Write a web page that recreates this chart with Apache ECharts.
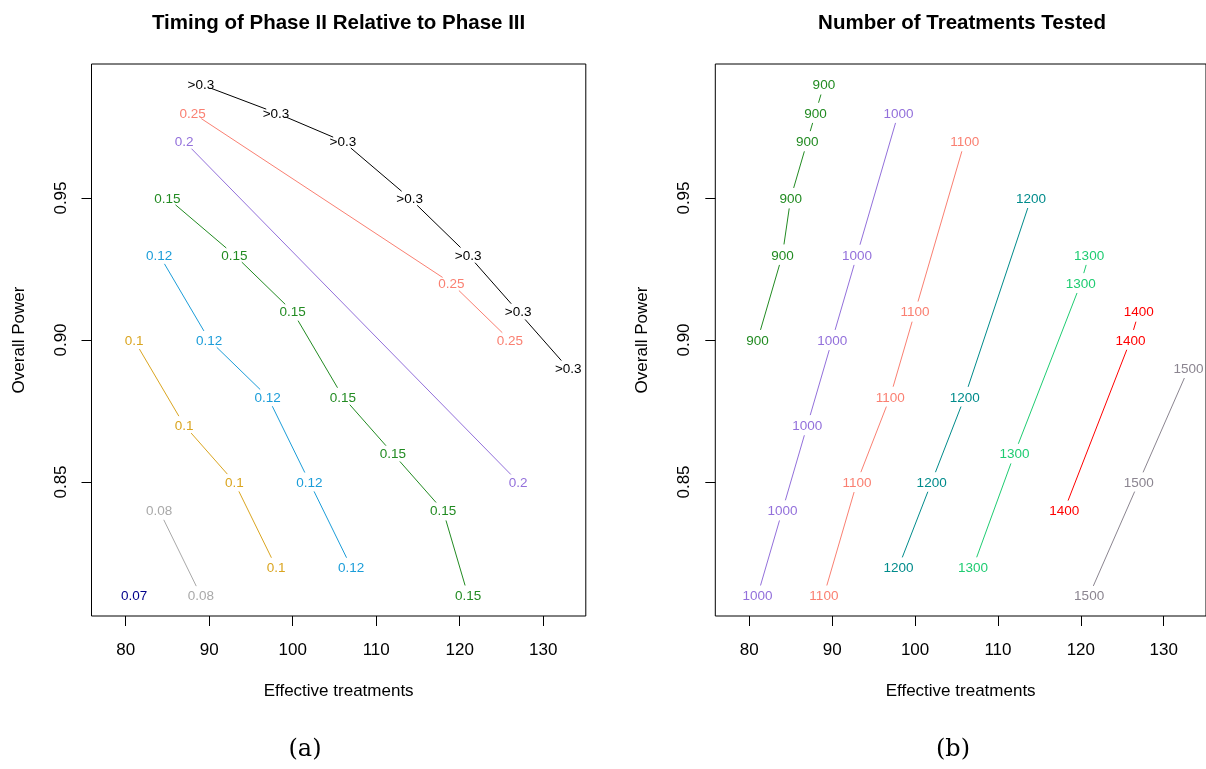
<!DOCTYPE html>
<html><head><meta charset="utf-8">
<script src="https://cdn.jsdelivr.net/npm/echarts@6/dist/echarts.min.js"></script>
<style>html,body{margin:0;padding:0;background:#fff}#c{width:1206px;height:769px}</style>
</head><body><div id="c"></div>
<script>
// ---- axis ticks ----
const xTicks = [80, 90, 100, 110, 120, 130];
const yTicks = [0.85, 0.90, 0.95];

// ---- panel (a): Timing of Phase II relative to Phase III ----
const aGt03X = [89, 98, 106, 114, 121, 127, 133];
const aGt03Y = [0.99, 0.98, 0.97, 0.95, 0.93, 0.91, 0.89];
const a025X = [88, 119, 126];
const a025Y = [0.98, 0.92, 0.90];
const a020X = [87, 127];
const a020Y = [0.97, 0.85];
const a015X = [85, 93, 100, 106, 112, 118, 121];
const a015Y = [0.95, 0.93, 0.91, 0.88, 0.86, 0.84, 0.81];
const a012X = [84, 90, 97, 102, 107];
const a012Y = [0.93, 0.90, 0.88, 0.85, 0.82];
const a010X = [81, 87, 93, 98];
const a010Y = [0.90, 0.87, 0.85, 0.82];
const a008X = [84, 89];
const a008Y = [0.84, 0.81];
const a007X = [81];
const a007Y = [0.81];
const aLabels = ['>0.3', '0.25', '0.2', '0.15', '0.12', '0.1', '0.08', '0.07'];

// ---- panel (b): Number of treatments tested ----
const b900X = [89, 88, 87, 85, 84, 81];
const b900Y = [0.99, 0.98, 0.97, 0.95, 0.93, 0.90];
const b1000X = [98, 93, 90, 87, 84, 81];
const b1000Y = [0.98, 0.93, 0.90, 0.87, 0.84, 0.81];
const b1100X = [106, 100, 97, 93, 89];
const b1100Y = [0.97, 0.91, 0.88, 0.85, 0.81];
const b1200X = [114, 106, 102, 98];
const b1200Y = [0.95, 0.88, 0.85, 0.82];
const b1300X = [121, 120, 112, 107];
const b1300Y = [0.93, 0.92, 0.86, 0.82];
const b1400X = [127, 126, 118];
const b1400Y = [0.91, 0.90, 0.84];
const b1500X = [133, 127, 121];
const b1500Y = [0.89, 0.85, 0.81];
const bLabels = ['900', '1000', '1100', '1200', '1300', '1400', '1500'];

const aColors = ['#000000', '#FA8072', '#9370DB', '#228B22', '#1B9DD9', '#DAA520', '#A9A9A9', '#00008B'];
const bColors = ['#228B22', '#9370DB', '#FA8072', '#008B8B', '#1FCC72', '#FF0000', '#8B8590'];

const aGroups = [[aGt03X, aGt03Y], [a025X, a025Y], [a020X, a020Y], [a015X, a015Y], [a012X, a012Y], [a010X, a010Y], [a008X, a008Y], [a007X, a007Y]];
const bGroups = [[b900X, b900Y], [b1000X, b1000Y], [b1100X, b1100Y], [b1200X, b1200Y], [b1300X, b1300Y], [b1400X, b1400Y], [b1500X, b1500Y]];

const SANS = '"Liberation Sans", Arial, Helvetica, sans-serif';
const LABEL_FONT = '13.5px ' + SANS;
const GAP = 10.5;

function makeRender(xs, ys, label, color) {
  return function (params, api) {
    const i = params.dataIndex;
    const p = api.coord([api.value(0), api.value(1)]);
    const children = [{
      type: 'text', x: p[0], y: p[1] + 1,
      style: { text: label, fill: color, font: LABEL_FONT, align: 'center', verticalAlign: 'middle' }
    }];
    if (i < xs.length - 1) {
      const q = api.coord([xs[i + 1], ys[i + 1]]);
      const dx = q[0] - p[0], dy = q[1] - p[1], L = Math.hypot(dx, dy);
      if (L > 2 * GAP) {
        children.push({
          type: 'line',
          shape: { x1: p[0] + dx / L * GAP, y1: p[1] + dy / L * GAP, x2: q[0] - dx / L * GAP, y2: q[1] - dy / L * GAP },
          style: { stroke: color, lineWidth: 1 }
        });
      }
    }
    return { type: 'group', children: children };
  };
}

function buildSeries(groups, labels, colors, axisIdx) {
  return groups.map(function (g, k) {
    const xs = g[0], ys = g[1];
    return {
      type: 'custom', coordinateSystem: 'cartesian2d',
      xAxisIndex: axisIdx, yAxisIndex: axisIdx,
      data: xs.map(function (x, i) { return [x, ys[i]]; }),
      encode: { x: 0, y: 1 },
      renderItem: makeRender(xs, ys, labels[k], colors[k]),
      silent: true, clip: false, animation: false
    };
  });
}

const XMIN = 75.9, XMAX = 135.1, YMIN = 0.8028, YMAX = 0.9972;

function xAxisDef(gridIndex) {
  return {
    type: 'value', gridIndex: gridIndex, min: XMIN, max: XMAX,
    name: 'Effective treatments', nameLocation: 'middle', nameGap: 67,
    nameTextStyle: { fontFamily: SANS, fontSize: 17, color: '#000' },
    axisLine: { show: false },
    axisTick: { show: true, inside: false, length: 10, customValues: xTicks, lineStyle: { color: '#000', width: 1 } },
    axisLabel: { show: true, customValues: xTicks, margin: 26, fontFamily: SANS, fontSize: 17, color: '#000' },
    splitLine: { show: false }
  };
}
function yAxisDef(gridIndex) {
  return {
    type: 'value', gridIndex: gridIndex, min: YMIN, max: YMAX,
    name: 'Overall Power', nameLocation: 'middle', nameGap: 64, nameRotate: 90,
    nameTextStyle: { fontFamily: SANS, fontSize: 17, color: '#000' },
    axisLine: { show: false },
    axisTick: { show: true, inside: false, length: 10, customValues: yTicks, lineStyle: { color: '#000', width: 1 } },
    axisLabel: { show: true, customValues: yTicks, rotate: 90, margin: 22, fontFamily: SANS, fontSize: 17, color: '#000',
      formatter: function (v) { return v.toFixed(2); } },
    splitLine: { show: false }
  };
}

const chart = echarts.init(document.getElementById('c'), null, { renderer: 'canvas', width: 1206, height: 769 });
chart.setOption({
  animation: false,
  backgroundColor: '#fff',
  grid: [
    { left: 91.5, top: 64, width: 494.3, height: 552, show: true, borderColor: '#000', borderWidth: 1, backgroundColor: 'transparent', containLabel: false },
    { left: 715.3, top: 64, width: 494.3, height: 552, show: true, borderColor: '#000', borderWidth: 1, backgroundColor: 'transparent', containLabel: false }
  ],
  xAxis: [xAxisDef(0), xAxisDef(1)],
  yAxis: [yAxisDef(0), yAxisDef(1)],
  graphic: [
    { type: 'text', x: 338.6, y: 23, style: { text: 'Timing of Phase II Relative to Phase III', font: 'bold 20.5px ' + SANS, fill: '#000', align: 'center', verticalAlign: 'middle' } },
    { type: 'text', x: 962, y: 23, style: { text: 'Number of Treatments Tested', font: 'bold 20.5px ' + SANS, fill: '#000', align: 'center', verticalAlign: 'middle' } },
    { type: 'text', x: 305, y: 750, style: { text: '(a)', font: '24px "DejaVu Serif", serif', fill: '#000', align: 'center', verticalAlign: 'middle' } },
    { type: 'text', x: 953, y: 750, style: { text: '(b)', font: '24px "DejaVu Serif", serif', fill: '#000', align: 'center', verticalAlign: 'middle' } }
  ],
  series: buildSeries(aGroups, aLabels, aColors, 0).concat(buildSeries(bGroups, bLabels, bColors, 1))
});
</script>
</body></html>
